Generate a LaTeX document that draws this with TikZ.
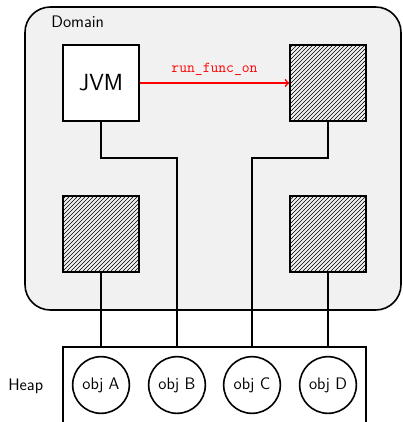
\documentclass[tikz,border=0pt]{standalone}
\usetikzlibrary{patterns}
\definecolor{domainbg}{HTML}{F1F1F1}
\definecolor{callred}{HTML}{FF0000}
\begin{document}
\begin{tikzpicture}[x=0.75pt,y=-0.75pt,
  every node/.style={font=\sffamily\fontsize{12.5}{15}\selectfont},
  wire/.style={line width=1.2pt},
  textlbl/.style={anchor=base west,inner sep=0pt},
  jvmbox/.style={draw,line width=1.2pt,fill=white,minimum size=57pt,inner sep=0pt,font=\sffamily\fontsize{17.5}{21}\selectfont},
  hatchbox/.style={draw,line width=1.2pt,pattern=north east lines,minimum size=57pt,inner sep=0pt},
  objnode/.style={draw,circle,line width=1.2pt,fill=white,minimum size=42.5pt,inner sep=0pt}]
\useasboundingbox (0,0) rectangle (403,422);
% domain
\draw[line width=1.2pt,fill=domainbg,rounded corners=19pt] (25,7) rectangle (401,310);
\node[textlbl] (domlbl) at (51,27) {Domain};
% heap
\draw[line width=1.2pt,fill=white] (63,347) rectangle (366,424);
\coordinate (hA) at (101,347);
\coordinate (hB) at (177,347);
\coordinate (hC) at (252,347);
\coordinate (hD) at (328,347);
\node[textlbl] (heaplbl) at (8,390) {Heap};
\node[objnode] (oA) at (101,385) {obj A};
\node[objnode] (oB) at (177,385) {obj B};
\node[objnode] (oC) at (252,385) {obj C};
\node[objnode] (oD) at (328,385) {obj D};
% boxes
\node[jvmbox] (jvm) at (101,83) {JVM};
\node[hatchbox] (tr) at (328,83) {};
\node[hatchbox] (bl) at (101,234) {};
\node[hatchbox] (br) at (328,234) {};
% wires
\draw[wire] (jvm.south) |- (177,158) -- (hB);
\draw[wire] (tr.south) |- (252,158) -- (hC);
\draw[wire] (bl.south) -- (hA);
\draw[wire] (br.south) -- (hD);
% call
\draw[line width=1.2pt,draw=callred,->] (jvm.east) -- (tr.west)
  node[midway,above=2pt,text=callred,font=\ttfamily\fontsize{11.4}{13}\selectfont] (lbl) {run\_func\_on};
\end{tikzpicture}
\end{document}
